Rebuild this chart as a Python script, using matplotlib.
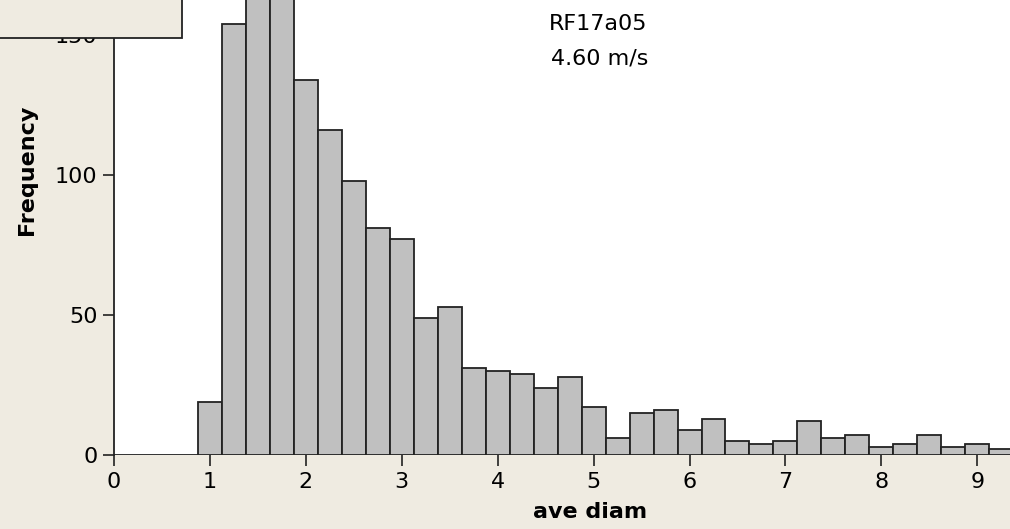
import numpy as np
import matplotlib
matplotlib.use('Agg')
import matplotlib.pyplot as plt
from matplotlib.patches import Rectangle

#%% histogram counts, bin width 0.25 (centres)
bin_centres = [0.0, 0.25, 0.5, 0.75,
               1.0, 1.25, 1.5, 1.75, 2.0, 2.25, 2.5, 2.75, 3.0, 3.25, 3.5, 3.75,
               4.0, 4.25, 4.5, 4.75, 5.0, 5.25, 5.5, 5.75, 6.0, 6.25, 6.5, 6.75,
               7.0, 7.25, 7.5, 7.75, 8.0, 8.25, 8.5, 8.75, 9.0, 9.25]
counts = [0, 0, 0, 0,
          19, 154, 170, 176, 134, 116, 98, 81, 77, 49, 53, 31,
          30, 29, 24, 28, 17, 6, 15, 16, 9, 13, 5, 4,
          5, 12, 6, 7, 3, 4, 7, 3, 4, 2]
bin_width = 0.25

x_ticks = [0, 1, 2, 3, 4, 5, 6, 7, 8, 9]
y_ticks = [0, 50, 100, 150]
run_id = 'RF17a05'
speed = '4.60 m/s'

bg = '#efebe1'
edge = '#222222'

plt.rcParams['font.family'] = 'DejaVu Sans'

fig = plt.figure(figsize=(10.10, 5.29), dpi=100, facecolor=bg)
ax = fig.add_axes([114/1010, 74/529, 1 - 114/1010, 1 - 74/529])
ax.set_facecolor('white')

ax.bar(bin_centres, counts, width=bin_width, color='#c0c0c0',
       edgecolor=edge, linewidth=1.3, align='center')

ax.set_xlim(0, 9.341)
ax.set_ylim(0, 162.5)
ax.set_xticks(x_ticks)
ax.set_yticks(y_ticks)
ax.tick_params(axis='both', labelsize=16, length=8, width=1.2, color=edge,
               labelcolor='black', pad=4)

for s in ['top', 'right', 'bottom']:
    ax.spines[s].set_visible(False)
ax.spines['left'].set_color(edge)
ax.spines['left'].set_linewidth(1.3)

fig.text(590/1010, 1 - 512/529, 'ave diam', ha='center', va='center',
         fontsize=16, fontweight='bold')
fig.text(27/1010, 1 - 170/529, 'Frequency', ha='center', va='center',
         rotation=90, fontsize=16, fontweight='bold')
fig.text(598/1010, 1 - 24/529, run_id, ha='center', va='center', fontsize=16)
fig.text(600/1010, 1 - 58/529, speed, ha='center', va='center', fontsize=16)

# box in the top-left corner, drawn over the axis labels
box = Rectangle((-0.01, 1 - 38/529), 0.01 + 182/1010, 0.2,
                transform=fig.transFigure, facecolor=bg, edgecolor=edge,
                linewidth=1.3, zorder=10, clip_on=False)
fig.patches.append(box)

fig.savefig('out.png', dpi=100, facecolor=bg)
